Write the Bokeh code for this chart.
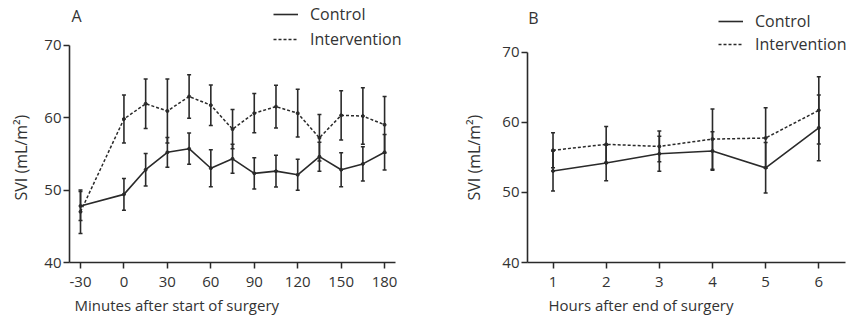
import math
from bokeh.plotting import figure
from bokeh.layouts import row
from bokeh.models import (ColumnDataSource, Whisker, TeeHead, FixedTicker, Label,
                          Legend, LegendItem, Title)
from bokeh.embed import file_html
from bokeh.resources import INLINE

# ---------------- data ----------------
minutes = [-30, 0, 15, 30, 45, 60, 75, 90, 105, 120, 135, 150, 165, 180]
control_a = [47.8, 49.4, 52.8, 55.2, 55.7, 53.0, 54.3, 52.3, 52.6, 52.1, 54.6, 52.8, 53.6, 55.2]
control_a_sd = [2.0, 2.2, 2.25, 2.05, 2.15, 2.55, 2.0, 2.15, 2.2, 2.15, 2.0, 2.35, 2.35, 2.45]
interv_a = [47.0, 59.8, 61.9, 60.9, 62.9, 61.7, 58.4, 60.6, 61.5, 60.6, 57.2, 60.3, 60.2, 59.0]
interv_a_sd = [3.0, 3.3, 3.4, 4.4, 3.0, 2.8, 2.7, 2.7, 2.95, 3.3, 3.2, 3.4, 3.9, 3.9]
minute_ticks = [-30, 0, 30, 60, 90, 120, 150, 180]

hours = [1, 2, 3, 4, 5, 6]
control_b = [53.05, 54.2, 55.5, 55.9, 53.5, 59.2]
control_b_sd = [2.85, 2.55, 2.5, 2.75, 3.6, 4.7]
interv_b = [56.0, 56.85, 56.55, 57.6, 57.75, 61.7]
interv_b_sd = [2.5, 2.55, 2.2, 4.3, 4.3, 4.8]
hour_ticks = [1, 2, 3, 4, 5, 6]

svi_ticks = [40, 50, 60, 70]

FONT = "Open Sans"
INK = "#2a2a2a"
TXT = "#333333"


def make_panel(x, ctrl, ctrl_sd, intv, intv_sd, xticks, xr, xbounds, yr, width,
               left, xlabel, letter, xlab_offset, ylab_offset, ylab_standoff,
               letter_pos, legend_loc, legend_spacing):
    p = figure(width=width, height=322, x_range=xr, y_range=yr,
               output_backend="svg", toolbar_location=None,
               min_border_left=left, min_border_right=0,
               min_border_top=0, min_border_bottom=60)
    p.outline_line_color = None
    p.xgrid.visible = False
    p.ygrid.visible = False
    p.background_fill_color = "white"
    p.border_fill_color = "white"

    src_c = ColumnDataSource(dict(x=x, y=ctrl,
                                  lo=[v - s for v, s in zip(ctrl, ctrl_sd)],
                                  hi=[v + s for v, s in zip(ctrl, ctrl_sd)]))
    src_i = ColumnDataSource(dict(x=x, y=intv,
                                  lo=[v - s for v, s in zip(intv, intv_sd)],
                                  hi=[v + s for v, s in zip(intv, intv_sd)]))

    for src in (src_i, src_c):
        w = Whisker(source=src, base="x", upper="hi", lower="lo",
                    line_color=INK, line_width=1.6, level="glyph",
                    upper_head=TeeHead(size=4, line_color=INK, line_width=1.5),
                    lower_head=TeeHead(size=4, line_color=INK, line_width=1.5))
        p.add_layout(w)

    li = p.line("x", "y", source=src_i, line_color=INK, line_width=1.5,
                line_dash="3 2")
    p.scatter("x", "y", source=src_i, size=3, color=INK)
    lc = p.line("x", "y", source=src_c, line_color=INK, line_width=1.6)
    p.scatter("x", "y", source=src_c, size=3, color=INK)

    for ax in (p.xaxis[0], p.yaxis[0]):
        ax.axis_label = None
        ax.axis_line_width = 1.6
        ax.axis_line_color = INK
        ax.major_tick_line_color = INK
        ax.major_tick_line_width = 1.5
        ax.major_tick_out = 6
        ax.major_tick_in = 0
        ax.minor_tick_line_color = None
        ax.major_label_text_font = FONT
        ax.major_label_text_font_size = "15px"
        ax.major_label_text_color = TXT
    p.xaxis.major_label_standoff = 8
    p.yaxis.major_label_standoff = 2
    p.xaxis.ticker = FixedTicker(ticks=xticks)
    p.xaxis.major_label_overrides = {t: str(t) for t in xticks if t < 0}
    p.yaxis.ticker = FixedTicker(ticks=svi_ticks)
    p.xaxis.bounds = xbounds
    p.yaxis.bounds = (40, 70)

    p.add_layout(Title(text=xlabel, align="left", offset=xlab_offset,
                       vertical_align="top",
                       text_font=FONT, text_font_size="15px",
                       text_font_style="normal", text_color=TXT,
                       standoff=11), "below")
    p.add_layout(Title(text="SVI (mL/m²)", align="left", offset=ylab_offset,
                       vertical_align="top",
                       text_font=FONT, text_font_size="16px",
                       text_font_style="normal", text_color=TXT,
                       standoff=ylab_standoff), "left")
    p.add_layout(Label(x=letter_pos[0], y=letter_pos[1], x_units="screen", y_units="screen",
                       text=letter, text_font=FONT, text_font_size="16px",
                       text_color=TXT, text_align="center", text_baseline="middle"))

    legend = Legend(items=[LegendItem(label="Control", renderers=[lc]),
                           LegendItem(label="Intervention", renderers=[li])],
                    location=legend_loc, orientation="vertical",
                    background_fill_alpha=0, border_line_alpha=0,
                    padding=0, margin=0, spacing=legend_spacing,
                    glyph_width=25, glyph_height=20, label_height=20,
                    label_standoff=12, label_text_font=FONT,
                    label_text_font_size="16px", label_text_color=TXT)
    p.add_layout(legend)
    return p


pA = make_panel(minutes, control_a, control_a_sd, interv_a, interv_a_sd, minute_ticks,
                (-37.6, 204.8), (-37.6, 187.5), (40, 76.14), 420, 69,
                "Minutes after start of surgery", "A",
                5, 62, 15, (7, 247), (204, 212), 3)
pB = make_panel(hours, control_b, control_b_sd, interv_b, interv_b_sd, hour_ticks,
                (0.52, 6.54), (0.52, 6.5), (40, 77.36), 427, 107,
                "Hours after end of surgery", "B",
                21, 62, 26, (6, 245), (191, 207), 1)

layout = row(pA, pB)
open("out.html", "w").write(file_html(layout, INLINE))
